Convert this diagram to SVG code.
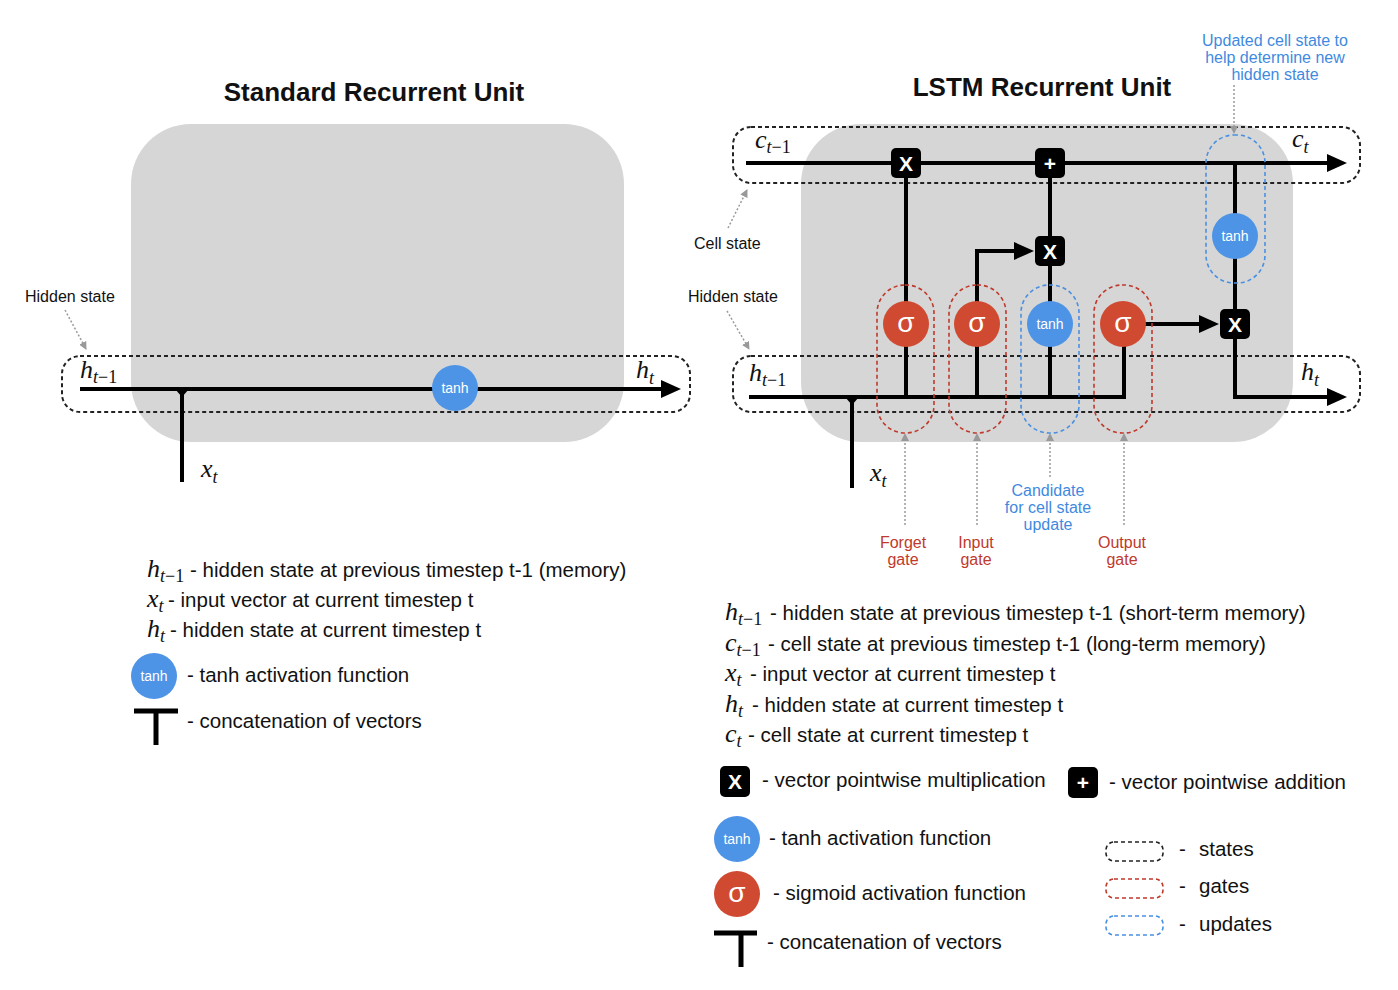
<svg xmlns="http://www.w3.org/2000/svg" width="1398" height="990" viewBox="0 0 1398 990">
<defs>
<style>
.bg{fill:#d6d6d6}
.st{fill:none;stroke:#222;stroke-width:2;stroke-dasharray:4 3}
.gt{fill:none;stroke:#c0392b;stroke-width:1.6;stroke-dasharray:4 3}
.up{fill:none;stroke:#4a90e2;stroke-width:1.6;stroke-dasharray:4 3}
.ln{fill:none;stroke:#000;stroke-width:4}
.ga{fill:none;stroke:#9a9a9a;stroke-width:1.5;stroke-dasharray:2 2}
.box{fill:#000}
.red{fill:#d04a32}
.blue{fill:#4d93e6}
.title{font-family:"Liberation Sans",Arial,sans-serif;font-weight:bold;font-size:26px;fill:#111;text-anchor:middle}
.lbl{font-family:"Liberation Sans",Arial,sans-serif;font-size:16px;fill:#111}
.rl{font-family:"Liberation Sans",Arial,sans-serif;font-size:16px;fill:#c0392b;text-anchor:middle}
.bl{font-family:"Liberation Sans",Arial,sans-serif;font-size:16px;fill:#3f8ae0;text-anchor:middle}
.op{font-family:"Liberation Sans",Arial,sans-serif;font-weight:bold;font-size:21px;fill:#fff;text-anchor:middle}
.sg{font-family:"Liberation Sans",Arial,sans-serif;font-size:28px;fill:#fff;text-anchor:middle}
.th{font-family:"Liberation Sans",Arial,sans-serif;font-size:14px;fill:#fff;text-anchor:middle}
.m{font-family:"Liberation Serif","DejaVu Serif",serif;font-style:italic;font-size:26px;fill:#111}
.s{font-size:18px}
.n{font-style:normal}
.lg{font-family:"Liberation Sans",Arial,sans-serif;font-size:20.5px;fill:#111}
</style>
<marker id="arr" viewBox="0 0 20 18" markerWidth="20" markerHeight="18" markerUnits="userSpaceOnUse" refX="4" refY="9" orient="auto">
<path d="M0,0 L20,9 L0,18 z" fill="#000"/>
</marker>
<marker id="garr" viewBox="0 0 8 8" markerWidth="8" markerHeight="8" markerUnits="userSpaceOnUse" refX="7" refY="4" orient="auto">
<path d="M0,0 L8,4 L0,8 z" fill="#999"/>
</marker>
</defs>
<rect width="1398" height="990" fill="#fff"/>

<!-- ============ Standard Recurrent Unit ============ -->
<g id="std-title"><text class="title" x="374" y="101">Standard Recurrent Unit</text></g>
<g id="std-cell"><rect class="bg" x="131" y="124" width="493" height="318" rx="60"/></g>
<g id="std-hidden-state"><rect class="st" x="62" y="356" width="628" height="56" rx="18"/></g>
<g id="std-connectors">
<path class="ln" d="M80,389 H665" marker-end="url(#arr)"/>
<path class="ln" d="M182,389 V482"/>
<path d="M175,389 H189 L182,397 z" fill="#000"/>
<path class="ga" d="M65,310 L86,349" marker-end="url(#garr)"/>
</g>
<g id="std-tanh"><circle class="blue" cx="455" cy="388" r="23"/><text class="th" x="455" y="393">tanh</text></g>
<g id="std-labels">
<text class="lbl" x="25" y="302">Hidden state</text>
<text class="m" x="80" y="378">h<tspan class="s" dy="5">t</tspan><tspan class="s n">−1</tspan></text>
<text class="m" x="636" y="378">h<tspan class="s" dy="6">t</tspan></text>
<text class="m" x="201" y="477">x<tspan class="s" dy="6">t</tspan></text>
</g>

<!-- ============ LSTM ============ -->
<g id="lstm-title"><text class="title" x="1042" y="96">LSTM Recurrent Unit</text></g>
<g id="lstm-cell"><rect class="bg" x="801" y="124" width="492" height="318" rx="60"/></g>
<g id="cell-state-box"><rect class="st" x="733" y="127" width="627" height="56" rx="18"/></g>
<g id="hidden-state-box"><rect class="st" x="733" y="356" width="627" height="56" rx="18"/></g>

<g id="connectors">
<path class="ln" d="M746,163 H1331" marker-end="url(#arr)"/>
<path class="ln" d="M749,397 H1124 V324"/>
<path class="ln" d="M852,397 V488"/>
<path d="M845,397 H859 L852,405 z" fill="#000"/>
<path class="ln" d="M906,397 V163"/>
<path class="ln" d="M977,397 V251 H1018" marker-end="url(#arr)"/>
<path class="ln" d="M1050,397 V163"/>
<path class="ln" d="M1123,324 H1203" marker-end="url(#arr)"/>
<path class="ln" d="M1235,163 V397 H1331" marker-end="url(#arr)"/>
<path class="ga" d="M728,228 L747,190" marker-end="url(#garr)"/>
<path class="ga" d="M727,311 L749,349" marker-end="url(#garr)"/>
<path class="ga" d="M1234,85 V133" marker-end="url(#garr)"/>
<path class="ga" d="M905,525 V434" marker-end="url(#garr)"/>
<path class="ga" d="M977,525 V434" marker-end="url(#garr)"/>
<path class="ga" d="M1050,477 V434" marker-end="url(#garr)"/>
<path class="ga" d="M1124,525 V434" marker-end="url(#garr)"/>
</g>

<g id="forget-gate"><rect class="gt" x="877" y="285" width="57" height="148" rx="28"/><circle class="red" cx="906" cy="324" r="23"/><text class="sg" x="906" y="332">σ</text></g>
<g id="input-gate"><rect class="gt" x="949" y="285" width="57" height="148" rx="28"/><circle class="red" cx="977" cy="324" r="23"/><text class="sg" x="977" y="332">σ</text></g>
<g id="candidate"><rect class="up" x="1021" y="285" width="58" height="148" rx="28"/><circle class="blue" cx="1050" cy="324" r="23"/><text class="th" x="1050" y="329">tanh</text></g>
<g id="output-gate"><rect class="gt" x="1094" y="285" width="58" height="148" rx="28"/><circle class="red" cx="1123" cy="324" r="23"/><text class="sg" x="1123" y="332">σ</text></g>
<g id="cell-update"><rect class="up" x="1206" y="135" width="59" height="148" rx="28"/><circle class="blue" cx="1235" cy="236" r="23"/><text class="th" x="1235" y="241">tanh</text></g>

<g id="mul-forget"><rect class="box" x="891" y="148" width="30" height="30" rx="5"/><text class="op" x="906" y="171">X</text></g>
<g id="add-cell"><rect class="box" x="1035" y="148" width="30" height="30" rx="5"/><text class="op" x="1050" y="171">+</text></g>
<g id="mul-input"><rect class="box" x="1035" y="236" width="30" height="30" rx="5"/><text class="op" x="1050" y="259">X</text></g>
<g id="mul-output"><rect class="box" x="1220" y="309" width="30" height="30" rx="5"/><text class="op" x="1235" y="332">X</text></g>

<g id="lstm-labels">
<text class="m" x="755" y="148">c<tspan class="s" dy="5">t</tspan><tspan class="s n">−1</tspan></text>
<text class="m" x="1292" y="147">c<tspan class="s" dy="6">t</tspan></text>
<text class="m" x="749" y="381">h<tspan class="s" dy="5">t</tspan><tspan class="s n">−1</tspan></text>
<text class="m" x="1301" y="380">h<tspan class="s" dy="6">t</tspan></text>
<text class="m" x="870" y="481">x<tspan class="s" dy="6">t</tspan></text>
<text class="lbl" x="694" y="249">Cell state</text>
<text class="lbl" x="688" y="302">Hidden state</text>
<text class="bl" x="1275" y="46">Updated cell state to</text>
<text class="bl" x="1275" y="63">help determine new</text>
<text class="bl" x="1275" y="80">hidden state</text>
<text class="rl" x="903" y="548">Forget</text>
<text class="rl" x="903" y="565">gate</text>
<text class="rl" x="976" y="548">Input</text>
<text class="rl" x="976" y="565">gate</text>
<text class="rl" x="1122" y="548">Output</text>
<text class="rl" x="1122" y="565">gate</text>
<text class="bl" x="1048" y="496">Candidate</text>
<text class="bl" x="1048" y="513">for cell state</text>
<text class="bl" x="1048" y="530">update</text>
</g>

<!-- ============ Legend left ============ -->
<g id="legend-std">
<text class="m" x="147" y="577">h<tspan class="s" dy="5">t</tspan><tspan class="s n">−1</tspan></text>
<text class="lg" x="190" y="577">- hidden state at previous timestep t-1 (memory)</text>
<text class="m" x="147" y="607">x<tspan class="s" dy="5">t</tspan></text>
<text class="lg" x="168" y="607">- input vector at current timestep t</text>
<text class="m" x="147" y="637">h<tspan class="s" dy="5">t</tspan></text>
<text class="lg" x="170" y="637">- hidden state at current timestep t</text>
<circle class="blue" cx="154" cy="676" r="23"/><text class="th" x="154" y="681">tanh</text>
<text class="lg" x="187" y="682">- tanh activation function</text>
<path d="M134,711 H178 M156,711 V745" stroke="#000" stroke-width="5" fill="none"/>
<text class="lg" x="187" y="728">- concatenation of vectors</text>
</g>

<!-- ============ Legend right ============ -->
<g id="legend-lstm">
<text class="m" x="725" y="620">h<tspan class="s" dy="5">t</tspan><tspan class="s n">−1</tspan></text>
<text class="lg" x="770" y="620">- hidden state at previous timestep t-1 (short-term memory)</text>
<text class="m" x="725" y="651">c<tspan class="s" dy="5">t</tspan><tspan class="s n">−1</tspan></text>
<text class="lg" x="768" y="651">- cell state at previous timestep t-1 (long-term memory)</text>
<text class="m" x="725" y="681">x<tspan class="s" dy="5">t</tspan></text>
<text class="lg" x="750" y="681">- input vector at current timestep t</text>
<text class="m" x="725" y="712">h<tspan class="s" dy="5">t</tspan></text>
<text class="lg" x="752" y="712">- hidden state at current timestep t</text>
<text class="m" x="725" y="742">c<tspan class="s" dy="5">t</tspan></text>
<text class="lg" x="748" y="742">- cell state at current timestep t</text>
<rect class="box" x="720" y="766" width="30" height="31" rx="5"/><text class="op" x="735" y="789">X</text>
<text class="lg" x="762" y="787">- vector pointwise multiplication</text>
<rect class="box" x="1068" y="767" width="30" height="31" rx="5"/><text class="op" x="1083" y="790">+</text>
<text class="lg" x="1109" y="789">- vector pointwise addition</text>
<circle class="blue" cx="737" cy="839" r="23"/><text class="th" x="737" y="844">tanh</text>
<text class="lg" x="769" y="845">- tanh activation function</text>
<circle class="red" cx="737" cy="894" r="23"/><text class="sg" x="737" y="902">σ</text>
<text class="lg" x="773" y="900">- sigmoid activation function</text>
<path d="M714,933 H757 M741,933 V967" stroke="#000" stroke-width="5" fill="none"/>
<text class="lg" x="767" y="949">- concatenation of vectors</text>
<rect class="st" x="1106" y="842" width="57" height="19" rx="8" style="stroke-width:1.6"/>
<rect class="gt" x="1106" y="879" width="57" height="19" rx="8"/>
<rect class="up" x="1106" y="916" width="57" height="19" rx="8"/>
<text class="lg" x="1179" y="856">-</text><text class="lg" x="1199" y="856">states</text>
<text class="lg" x="1179" y="893">-</text><text class="lg" x="1199" y="893">gates</text>
<text class="lg" x="1179" y="931">-</text><text class="lg" x="1199" y="931">updates</text>
</g>
</svg>
